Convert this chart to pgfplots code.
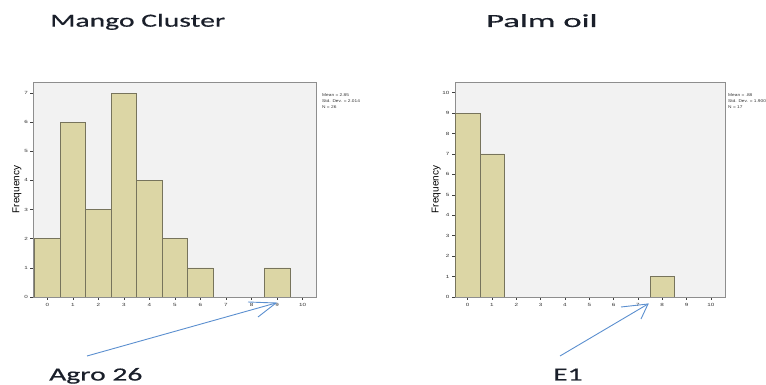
\documentclass[border=0pt]{standalone}
\usepackage{pgfplots}
\pgfplotsset{compat=1.18}
\usepackage{fontspec}
\setmainfont{Liberation Sans}
\newfontfamily\headfont[FakeStretch=1.6, FakeBold=0.6]{Carlito}
\newfontfamily\smallfont[FakeStretch=1.4]{Liberation Sans}
\newfontfamily\statfont[FakeStretch=1.2]{Liberation Sans}
\newfontfamily\labelfont[FakeBold=1.6]{Liberation Sans}

\definecolor{barfill}{HTML}{DCD6A5}
\definecolor{baredge}{HTML}{77745C}
\definecolor{plotbg}{HTML}{F2F2F2}
\definecolor{framegray}{HTML}{8E8E8E}
\definecolor{arrowblue}{HTML}{5B8FCF}
\definecolor{headink}{HTML}{1A1F2A}

\pgfplotsset{
  spsshist/.style={
    anchor=south west, scale only axis, height=215pt,
    ymin=0,
    axis background/.style={fill=plotbg},
    axis line style={framegray, line width=0.8pt},
    tick style={black!75, line width=0.45pt},
    major tick length=3pt,
    tick align=outside,
    xtick pos=bottom, ytick pos=left,
    xtick={0,...,10},
    tick label style={font=\smallfont\fontsize{4.5}{5}\selectfont, text=black!80},
    yticklabel style={xshift=1pt},
    /pgf/number format/assume math mode=true,
    ylabel={Frequency},
    ylabel style={font=\labelfont\fontsize{6.5}{7}\selectfont, text=black!90},
  },
  histbar/.style={ybar, bar width=1, fill=barfill, draw=baredge, line width=0.6pt},
}

\begin{document}
\begin{tikzpicture}[x=1pt, y=1pt]
\useasboundingbox (0,0) rectangle (766,385);

% Mango Cluster histogram
\begin{axis}[spsshist, at={(33.3pt,88pt)}, width=283.3pt,
  xmin=-0.55, xmax=10.55, ymax=7.378, ytick={0,...,7},
  every axis y label/.style={at={(axis description cs:-0.0575,0.5)}, rotate=90, anchor=center}]
  \addplot[histbar] coordinates {(0,2) (1,6) (2,3) (3,7) (4,4) (5,2) (6,1) (9,1)};
\end{axis}

% Palm oil histogram
\begin{axis}[spsshist, at={(455pt,88pt)}, width=270pt,
  xmin=-0.52, xmax=10.58, ymax=10.52, ytick={0,...,10},
  every axis y label/.style={at={(axis description cs:-0.070,0.5)}, rotate=90, anchor=center}]
  \addplot[histbar] coordinates {(0,9) (1,7) (8,1)};
\end{axis}

% summary statistics
\node[anchor=north west, inner sep=0, align=left, text=black!80,
  font=\statfont\fontsize{4}{6}\selectfont] at (322,291)
  {Mean = 2.85\\Std. Dev. = 2.014\\N = 26};
\node[anchor=north west, inner sep=0, align=left, text=black!80,
  font=\statfont\fontsize{4}{6}\selectfont] at (728,291)
  {Mean = .88\\Std. Dev. = 1.900\\N = 17};

% titles
\node[anchor=base west, inner sep=0, text=headink,
  font=\headfont\fontsize{18.5}{20}\selectfont] at (50,358.3) {Mango Cluster};
\node[anchor=base west, inner sep=0, text=headink,
  font=\headfont\fontsize{18.5}{20}\selectfont] at (486,358) {\scalebox{1.17}[1]{Palm oil}};

% outlier call-outs
\node[anchor=base west, inner sep=0, text=headink,
  font=\headfont\fontsize{18.5}{20}\selectfont] at (49,4.5) {Agro 26};
\node[anchor=base west, inner sep=0, text=headink,
  font=\headfont\fontsize{18.5}{20}\selectfont] at (553,4.5) {E1};

\draw[arrowblue, line width=0.9pt] (87,29) -- (276,82);
\draw[arrowblue, line width=0.9pt] (248,83) -- (276,82) -- (258,68);
\draw[arrowblue, line width=0.9pt] (560,29) -- (648,81);
\draw[arrowblue, line width=0.9pt] (621,78) -- (648,81) -- (641,66);
\end{tikzpicture}
\end{document}
